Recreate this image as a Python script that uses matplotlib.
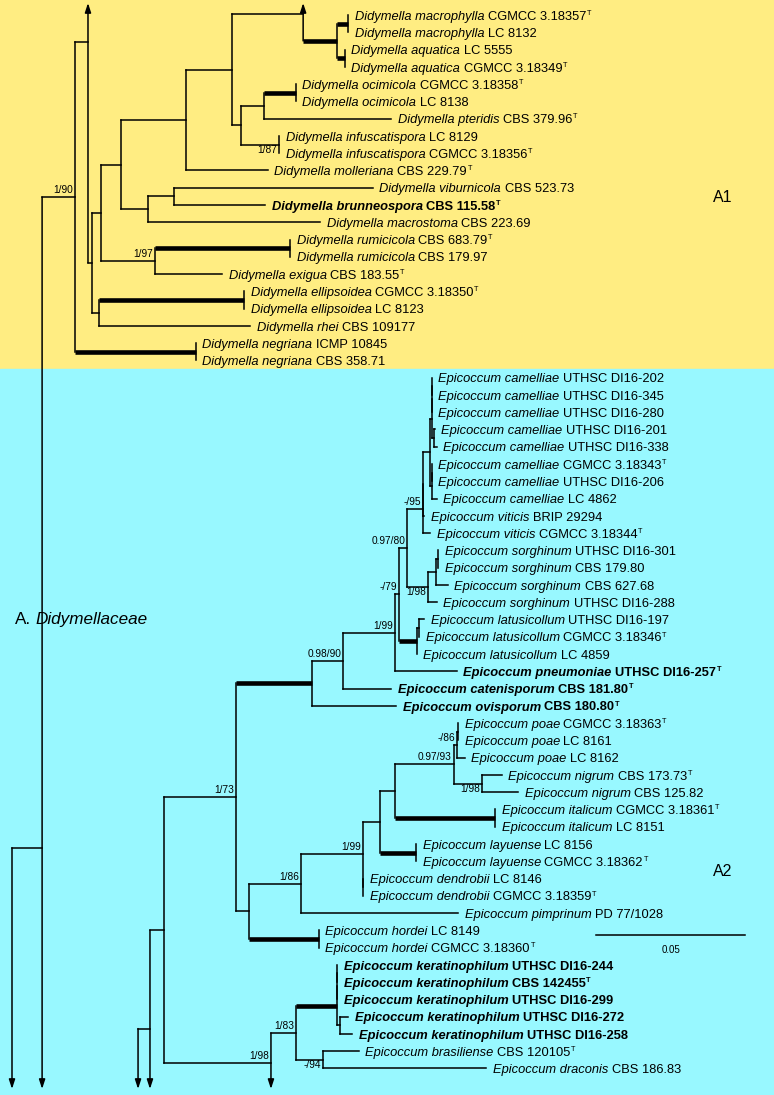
import matplotlib
matplotlib.use('Agg')
import matplotlib.pyplot as plt

# ---- tips, top to bottom -------------------------------------------------
species = (['Didymella macrophylla'] * 2 + ['Didymella aquatica'] * 2 +
           ['Didymella ocimicola'] * 2 + ['Didymella pteridis'] +
           ['Didymella infuscatispora'] * 2 + ['Didymella molleriana',
           'Didymella viburnicola', 'Didymella brunneospora', 'Didymella macrostoma'] +
           ['Didymella rumicicola'] * 2 + ['Didymella exigua'] +
           ['Didymella ellipsoidea'] * 2 + ['Didymella rhei'] +
           ['Didymella negriana'] * 2 +
           ['Epicoccum camelliae'] * 8 + ['Epicoccum viticis'] * 2 +
           ['Epicoccum sorghinum'] * 4 + ['Epicoccum latusicollum'] * 3 +
           ['Epicoccum pneumoniae', 'Epicoccum catenisporum', 'Epicoccum ovisporum'] +
           ['Epicoccum poae'] * 3 + ['Epicoccum nigrum'] * 2 +
           ['Epicoccum italicum'] * 2 + ['Epicoccum layuense'] * 2 +
           ['Epicoccum dendrobii'] * 2 + ['Epicoccum pimprinum'] +
           ['Epicoccum hordei'] * 2 + ['Epicoccum keratinophilum'] * 5 +
           ['Epicoccum brasiliense', 'Epicoccum draconis'])

strains = ['CGMCC 3.18357', 'LC 8132', 'LC 5555', 'CGMCC 3.18349', 'CGMCC 3.18358',
           'LC 8138', 'CBS 379.96', 'LC 8129', 'CGMCC 3.18356', 'CBS 229.79',
           'CBS 523.73', 'CBS 115.58', 'CBS 223.69', 'CBS 683.79', 'CBS 179.97',
           'CBS 183.55', 'CGMCC 3.18350', 'LC 8123', 'CBS 109177', 'ICMP 10845',
           'CBS 358.71',
           'UTHSC DI16-202', 'UTHSC DI16-345', 'UTHSC DI16-280', 'UTHSC DI16-201',
           'UTHSC DI16-338', 'CGMCC 3.18343', 'UTHSC DI16-206', 'LC 4862',
           'BRIP 29294', 'CGMCC 3.18344', 'UTHSC DI16-301', 'CBS 179.80',
           'CBS 627.68', 'UTHSC DI16-288', 'UTHSC DI16-197', 'CGMCC 3.18346',
           'LC 4859', 'UTHSC DI16-257', 'CBS 181.80', 'CBS 180.80',
           'CGMCC 3.18363', 'LC 8161', 'LC 8162', 'CBS 173.73', 'CBS 125.82',
           'CGMCC 3.18361', 'LC 8151', 'LC 8156', 'CGMCC 3.18362', 'LC 8146',
           'CGMCC 3.18359', 'PD 77/1028', 'LC 8149', 'CGMCC 3.18360',
           'UTHSC DI16-244', 'CBS 142455', 'UTHSC DI16-299', 'UTHSC DI16-272',
           'UTHSC DI16-258', 'CBS 120105', 'CBS 186.83']

type_strains = [0, 3, 4, 6, 8, 9, 11, 13, 15, 16, 26, 30, 36, 38, 39, 40, 41,
                44, 46, 49, 51, 54, 56, 60]
bold_tips = [11, 38, 39, 40, 55, 56, 57, 58, 59]

# depth of each tip (substitutions per site from the root line)
tip_depth = [0.1128, 0.1128, 0.1117, 0.1117, 0.0953, 0.0953, 0.1272, 0.0896,
             0.0896, 0.0859, 0.1211, 0.0849, 0.1034, 0.0933, 0.0933, 0.0705,
             0.0779, 0.0779, 0.0799, 0.0617, 0.0617,
             0.1409, 0.1409, 0.1409, 0.1419, 0.1426, 0.1409, 0.1409, 0.1426,
             0.1383, 0.1403, 0.1430, 0.1430, 0.1463, 0.1426, 0.1383, 0.1366,
             0.1359, 0.1493, 0.1272, 0.1289, 0.1497, 0.1497, 0.1520, 0.1644,
             0.1698, 0.1621, 0.1621, 0.1356, 0.1356, 0.1178, 0.1178, 0.1497,
             0.1030, 0.1030, 0.1091, 0.1091, 0.1091, 0.1128, 0.1141, 0.1164,
             0.1591]
tip_parent = ['macro', 'macro', 'aqua', 'aqua', 'ocim', 'ocim', 'a9', 'infus',
              'infus', 'a6', 'a11', 'a11', 'a10', 'rumi', 'rumi', 'a12', 'ellip',
              'ellip', 'a13', 'negr', 'negr',
              'cam_d', 'cam_d', 'cam_c', 'cam_f', 'cam_f', 'cam_e', 'cam_e',
              'cam_b', 'vit1', 'vit2', 'sor_c', 'sor_c', 'sor_b', 'sor', 'lat_b',
              'lat_b', 'lat', 'b6', 'b5', 'b4', 'poae_b', 'poae_b', 'poae', 'nig',
              'nig', 'ital', 'ital', 'lay', 'lay', 'dend', 'dend', 'b10', 'hord',
              'hord', 'ker_d', 'ker_d', 'ker_c', 'ker_e', 'ker_e', 'bd', 'bd']

# ---- internal nodes --------------------------------------------------------
node_names = ['r0', 'r1', 'a1', 'a2', 'a3', 'a4', 'a5', 'a6', 'a7', 'mac', 'mac2',
              'macro', 'aqua', 'a8', 'a9', 'ocim', 'infus', 'a10', 'a11', 'a12',
              'rumi', 'a13', 'ellip', 'negr',
              'b0', 'b1', 'b2', 'b3', 'b4', 'b5', 'b6', 'b7', 'b8', 'vit2', 'vit1',
              'cam', 'cam_a', 'cam_c', 'cam_d', 'cam_f', 'cam_b', 'cam_e', 'sor',
              'sor_b', 'sor_c', 'lat', 'lat_b', 'b9', 'b10', 'b11', 'dend', 'b12',
              'b13', 'b14', 'poae', 'poae_b', 'nig', 'ital', 'lay', 'hord', 'c1',
              'c2', 'ker', 'ker_c', 'ker_d', 'ker_e', 'bd']
node_parent = [None, 'r0', 'r1', 'a1', 'a2', 'a3', 'a4', 'a5', 'a6', 'a7', 'mac',
               'mac2', 'mac2', 'a7', 'a8', 'a9', 'a8', 'a5', 'a10', 'a4', 'a12',
               'a3', 'a13', 'a1',
               None, 'b0', 'b1', 'b2', 'b3', 'b4', 'b5', 'b6', 'b7', 'b8', 'vit2',
               'vit1', 'cam', 'cam_a', 'cam_c', 'cam_a', 'cam', 'cam_b', 'b8',
               'sor', 'sor_b', 'b7', 'lat', 'b3', 'b9', 'b10', 'b11', 'b11',
               'b12', 'b13', 'b14', 'poae', 'b14', 'b13', 'b12', 'b9', 'b2',
               'c1', 'c2', 'ker', 'ker_c', 'ker', 'c2']
node_depth = [0.0, 0.0101, 0.0211, 0.0255, 0.0268, 0.0298, 0.0366, 0.0584,
              0.0738, 0.0977, 0.1091, 0.1128, 0.1117, 0.0768, 0.0846, 0.0953,
              0.0896, 0.0456, 0.0544, 0.0480, 0.0933, 0.0292, 0.0779, 0.0617,
              0.0423, 0.0463, 0.0510, 0.0752, 0.1007, 0.1111, 0.1285, 0.1299,
              0.1326, 0.1379, 0.1379, 0.1403, 0.1409, 0.1409, 0.1409, 0.1416,
              0.1409, 0.1409, 0.1396, 0.1423, 0.1430, 0.1359, 0.1366, 0.0795,
              0.0970, 0.1178, 0.1178, 0.1235, 0.1285, 0.1483, 0.1493, 0.1497,
              0.1577, 0.1621, 0.1356, 0.1030, 0.0869, 0.0953, 0.1091, 0.1091,
              0.1091, 0.1101, 0.1044]

# posterior probability / bootstrap
support_node = ['a1', 'infus', 'a12', 'b5', 'b6', 'b7', 'b8', 'vit2', 'sor', 'b3',
                'b10', 'b11', 'b14', 'poae', 'nig', 'c1', 'c2', 'bd']
support_text = ['1/90', '1/87', '1/97', '0.98/90', '1/99', '-/79', '0.97/80',
                '-/95', '1/98', '1/73', '1/86', '1/99', '0.97/93', '-/86', '1/98',
                '1/98', '1/83', '-/94']
# branches with full support (drawn thick)
full_support = ['mac2', 'macro', 'aqua', 'ocim', 'rumi', 'ellip', 'negr', 'b4',
                'lat', 'ital', 'lay', 'hord', 'ker']

# branches continuing to parts of the tree outside this panel (row of hidden part)
continue_node = ['r0', 'r1', 'a2', 'mac', 'b0', 'b1', 'c1']
continue_row = [80.0, 85.9, -11.2, -1.6, 70.0, 64.4, 62.4]

clade_labels = ['A1', 'A2']

# ---- layout ---------------------------------------------------------------
W, H = 774, 1095
PX_PER_UNIT = 2980.0
ROW0, ROW_H = 15.0, 17.27
FONT = ['Liberation Sans', 'DejaVu Sans']
FS = 9.3
THIN, THICK = 1.1, 3.3

fig = plt.figure(figsize=(W / 100, H / 100), dpi=100)
ax = fig.add_axes([0, 0, 1, 1])
ax.set_xlim(-12 / PX_PER_UNIT, (W - 12) / PX_PER_UNIT)
ax.set_ylim((H - ROW0) / ROW_H, -ROW0 / ROW_H)
ax.axis('off')
ax.axhspan(-5, 20.5, color='#FFED82', zorder=0)
ax.axhspan(20.5, 70, color='#98F8FF', zorder=0)

ARROW_TOP = (3 - ROW0) / ROW_H
ARROW_BOT = (1089 - ROW0) / ROW_H

children = {n: [] for n in node_names}
for n, p in zip(node_names, node_parent):
    if p is not None:
        children[p].append(n)
depth = dict(zip(node_names, node_depth))
parent = dict(zip(node_names, node_parent))
stubs = {n: [] for n in node_names}
for n, r in zip(continue_node, continue_row):
    stubs[n].append(r)
tips_of = {n: [] for n in node_names}
for i, p in enumerate(tip_parent):
    tips_of[p].append(i)

rows = {}


def node_row(n):
    real = [float(i) for i in tips_of[n]] + [node_row(c) for c in children[n]]
    ys = real + stubs[n]
    rows[n] = (min(ys) + max(ys)) / 2
    rows[n + '_real'] = (min(real), max(real))
    return rows[n]


for n in node_names:
    if parent[n] is None:
        node_row(n)

line_kw = dict(color='black', zorder=3)
for n in node_names:
    x = depth[n]
    lo, hi = rows[n + '_real']
    ax.plot([x, x], [lo, hi], lw=THIN, solid_capstyle='projecting', **line_kw)
    for s in stubs[n]:
        start, end = (lo, ARROW_TOP) if s < lo else (hi, ARROW_BOT)
        ax.annotate('', xy=(x, end), xytext=(x, start),
                    arrowprops=dict(arrowstyle='-|>,head_length=0.55,head_width=0.18',
                                    color='black', lw=THIN, mutation_scale=10,
                                    shrinkA=0, shrinkB=0), zorder=3)
    if parent[n] is not None:
        thick = n in full_support
        ax.plot([depth[parent[n]], x], [rows[n], rows[n]],
                lw=THICK if thick else THIN,
                solid_capstyle='butt' if thick else 'projecting', **line_kw)

for i, p in enumerate(tip_parent):
    if tip_depth[i] > depth[p]:
        ax.plot([depth[p], tip_depth[i]], [i, i], lw=THIN,
                solid_capstyle='projecting', **line_kw)

# support values
below = {'infus', 'sor', 'nig', 'bd'}
for n, s in zip(support_node, support_text):
    dy = -10 if n in below else 2
    ax.annotate(s, (depth[n], rows[n]), xytext=(-2, dy), textcoords='offset pixels',
                ha='right', va='bottom', fontsize=7.3, family=FONT, zorder=4)

fig.canvas.draw()
renderer = fig.canvas.get_renderer()


def put(x, row, dx, dy, s, **kw):
    t = ax.annotate(s, (x, row), xytext=(dx, dy), textcoords='offset pixels',
                    ha='left', va='baseline', family=FONT, zorder=4, **kw)
    return t.get_window_extent(renderer).width


space = 0.278 * FS * 100 / 72
for i in range(len(species)):
    w = 'bold' if i in bold_tips else 'normal'
    dx = 6.5
    dx += put(tip_depth[i], i, dx, -4.7, species[i], fontsize=FS,
              style='italic', weight=w) + space
    dx += put(tip_depth[i], i, dx, -4.7, strains[i], fontsize=FS, weight=w) + 0.5
    if i in type_strains:
        put(tip_depth[i], i, dx, 0.2, 'T', fontsize=5.3, weight=w)

# clade names
ax.text((723 - 12) / PX_PER_UNIT, (198 - ROW0) / ROW_H, clade_labels[0],
        ha='center', va='center', fontsize=11.5, family=FONT)
ax.text((723 - 12) / PX_PER_UNIT, (871 - ROW0) / ROW_H, clade_labels[1],
        ha='center', va='center', fontsize=11.5, family=FONT)
fam_row = (618 - ROW0) / ROW_H
wa = put(3 / PX_PER_UNIT, fam_row, 0, -6, 'A.', fontsize=12.3)
put(3 / PX_PER_UNIT, fam_row, wa + 0.278 * 12.3 * 100 / 72, -6, 'Didymellaceae',
    fontsize=12.3, style='italic')

# scale bar
sb_x0 = (596 - 12) / PX_PER_UNIT
sb_row = (935 - ROW0) / ROW_H
ax.plot([sb_x0, sb_x0 + 0.05], [sb_row, sb_row], color='black', lw=THIN)
ax.text(sb_x0 + 0.025, sb_row + 0.85, '0.05', ha='center', va='center',
        fontsize=7, family=FONT)

fig.savefig('out.png', dpi=100)
